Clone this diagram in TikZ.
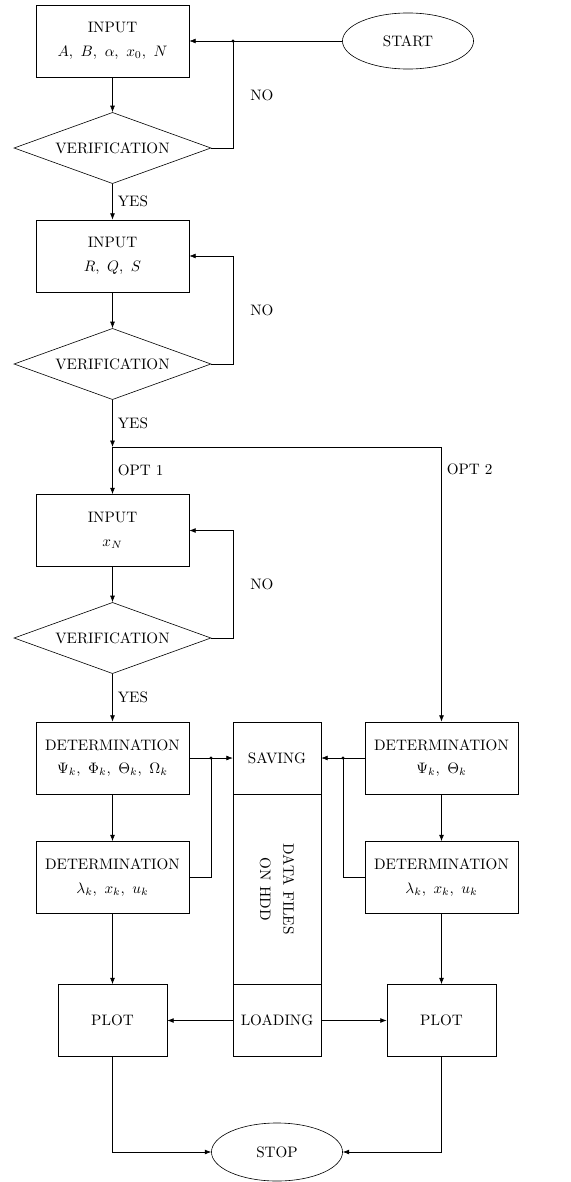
\documentclass[tikz,border=0pt]{standalone}
\usepackage{amsmath}
\usetikzlibrary{shapes.geometric,arrows.meta}

\begin{document}
\begin{tikzpicture}[x=0.66pt,y=-0.66pt,
  block/.style={draw,rectangle,align=center,minimum width=101pt,minimum height=47.5pt},
  plotbox/.style={draw,rectangle,minimum width=72pt,minimum height=47.5pt},
  filebox/.style={draw,rectangle,align=center,minimum width=58pt,minimum height=47.5pt},
  check/.style={draw,diamond,aspect=2.8,minimum width=130pt,minimum height=47pt},
  term/.style={draw,ellipse,minimum width=86.5pt,minimum height=37pt},
  arr/.style={-{Latex[length=4.2pt,width=3.2pt]}}]
\useasboundingbox (0,0) rectangle (570,1182);
\node[term] (start) at (408,41) {START};
\node[block] (in1) at (112.5,41) {INPUT\\[3.5pt]$A,\ B,\ \alpha,\ x_0,\ N$};
\node[check] (ver1) at (112.5,148) {VERIFICATION};
\node[block] (in2) at (112.5,256) {INPUT\\[3.5pt]$R,\ Q,\ S$};
\node[check] (ver2) at (112.5,364) {VERIFICATION};
\node[block] (in3) at (112.5,530.5) {INPUT\\[3.5pt]$x_N$};
\node[check] (ver3) at (112.5,638) {VERIFICATION};
\node[block] (det1) at (112.5,758) {DETERMINATION\\[3.5pt]$\Psi_k,\ \Phi_k,\ \Theta_k,\ \Omega_k$};
\node[block] (det2) at (112.5,877.5) {DETERMINATION\\[3.5pt]$\lambda_k,\ x_k,\ u_k$};
\node[plotbox] (plot1) at (112.5,1020.5) {PLOT};
\node[filebox] (save) at (277,758) {SAVING};
\node[draw,rotate=-90,align=center,minimum width=125.7pt,minimum height=58pt] (data) at (277,889.25) {DATA FILES\\[3.5pt]ON HDD};
\node[filebox] (load) at (277,1020.5) {LOADING};
\node[block] (det3) at (441.5,758) {DETERMINATION\\[3.5pt]$\Psi_k,\ \Theta_k$};
\node[block] (det4) at (441.5,877.5) {DETERMINATION\\[3.5pt]$\lambda_k,\ x_k,\ u_k$};
\node[plotbox] (plot2) at (441.5,1020.5) {PLOT};
\node[term,minimum height=38.3pt] (stop) at (277,1152) {STOP};
\node[anchor=west] (no1) at (245,95) {NO};
\node[anchor=west] (no2) at (245,310) {NO};
\node[anchor=west] (no3) at (245,584) {NO};
\node[anchor=west] (opt2) at (441.5,469) {OPT 2};
\coordinate (j1) at (233,41);
\coordinate (split) at (112.5,447);
\coordinate (j2) at (211,758);
\coordinate (j3) at (343,758);
\draw[arr] (start.west) -- (in1.east);
\draw (ver1.east) -| (j1);
\fill (j1) circle (1pt);
\draw[arr] (in1) -- (ver1);
\draw[arr] (ver1) -- node[right] (yes1) {YES} (in2);
\draw[arr] (in2) -- (ver2);
\draw[arr] (ver2.east) -- ++(22,0) |- (in2.east);
\draw[arr] (ver2) -- node[right] (yes2) {YES} (split);
\draw[arr] (split) -- node[right] (opt1) {OPT 1} (in3);
\draw[arr] (split) -| (det3.north);
\draw[arr] (in3) -- (ver3);
\draw[arr] (ver3.east) -- ++(22,0) |- (in3.east);
\draw[arr] (ver3) -- node[right] (yes3) {YES} (det1);
\draw[arr] (det1) -- (det2);
\draw[arr] (det1.east) -- (save.west);
\draw (det2.east) -| (j2);
\fill (j2) circle (1pt);
\draw[arr] (det3.west) -- (save.east);
\draw (det4.west) -| (j3);
\fill (j3) circle (1pt);
\draw[arr] (det3) -- (det4);
\draw[arr] (det2) -- (plot1);
\draw[arr] (det4) -- (plot2);
\draw[arr] (load.west) -- (plot1.east);
\draw[arr] (load.east) -- (plot2.west);
\draw[arr] (plot1.south) |- (stop.west);
\draw[arr] (plot2.south) |- (stop.east);
\end{tikzpicture}
\end{document}
